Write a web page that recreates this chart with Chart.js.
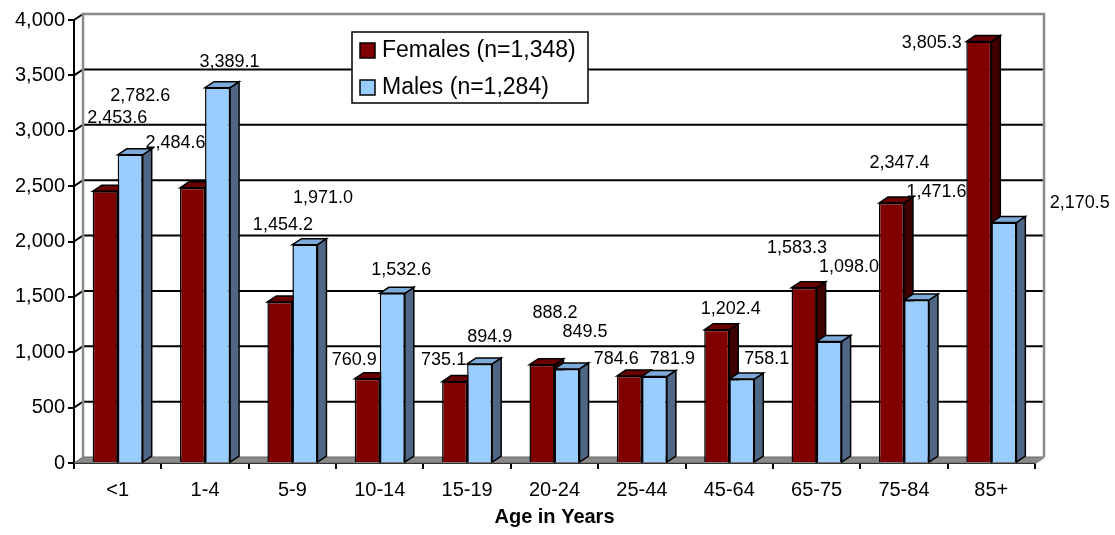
<!DOCTYPE html>
<html>
<head>
<meta charset="utf-8">
<script src="https://cdn.jsdelivr.net/npm/chart.js@4/dist/chart.umd.min.js"></script>
<style>
  html, body { margin: 0; padding: 0; background: #fff; }
  #wrap { width: 1115px; height: 535px; position: relative; }
</style>
</head>
<body>
<div id="wrap"><canvas id="main-chart" width="1115" height="535"></canvas></div>
<script>
const ageGroups   = ['<1', '1-4', '5-9', '10-14', '15-19', '20-24', '25-44', '45-64', '65-75', '75-84', '85+'];
const femaleRates = [2453.6, 2484.6, 1454.2, 760.9, 735.1, 888.2, 784.6, 1202.4, 1583.3, 2347.4, 3805.3];
const maleRates   = [2782.6, 3389.1, 1971.0, 1532.6, 894.9, 849.5, 781.9, 758.1, 1098.0, 1471.6, 2170.5];
const seriesNames = ['Females (n=1,348)', 'Males (n=1,284)'];
const yTickMax = 4000, yTickStep = 500;

// label nudges (px) from the top centre of each bar, as the labels sit in the original
const femaleLabelShift = [[12,-73],[-17,-45],[3,-77],[-13,-19],[-11,-22],[13,-52],[-13,-17],[14,-21],[-7,-40],[8,-40],[-47,1]];
const maleLabelShift   = [[10,-59],[12,-26],[18,-47],[9,-23],[10,-27],[18,-37],[18,-17],[25,-20],[20,-74],[20,-108],[76,-20]];

const FONT = '"Liberation Sans", Arial, sans-serif';
const depth = { x: 9, y: -6 };
const colors = {
  female: { front: '#800000', side: '#3f0000', top: '#6a0000' },
  male:   { front: '#99CCFF', side: '#4F6785', top: '#7DAAD8' },
};
const fmt = v => v.toLocaleString('en-US', { minimumFractionDigits: 1, maximumFractionDigits: 1 });

function poly(ctx, pts, fill) {
  ctx.beginPath();
  ctx.moveTo(pts[0][0], pts[0][1]);
  pts.slice(1).forEach(p => ctx.lineTo(p[0], p[1]));
  ctx.closePath();
  ctx.fillStyle = fill;
  ctx.fill();
  ctx.stroke();
}

// back wall, floor, gridlines and the side/top faces of the bars
const box3d = {
  id: 'box3d',
  beforeDatasetsDraw(chart) {
    const { ctx, chartArea: a, scales: { y } } = chart;
    const dx = depth.x, dy = depth.y;
    ctx.save();
    ctx.lineJoin = 'miter';

    // floor
    ctx.strokeStyle = '#666';
    ctx.lineWidth = 1;
    poly(ctx, [[a.left, a.bottom], [a.left + dx, a.bottom + dy], [a.right + dx, a.bottom + dy], [a.right, a.bottom]], '#8a8a8a');

    // gridlines on the back wall
    ctx.strokeStyle = '#000';
    ctx.lineWidth = 2;
    y.ticks.forEach(t => {
      if (t.value === 0) return;
      const py = y.getPixelForValue(t.value);
      ctx.beginPath();
      ctx.moveTo(a.left, py);
      ctx.lineTo(a.left + dx, py + dy);
      if (t.value < yTickMax) ctx.lineTo(a.right + dx, py + dy);
      ctx.stroke();
    });

    // wall edges
    ctx.strokeStyle = '#8c8c8c';
    ctx.lineWidth = 2.5;
    ctx.beginPath();
    ctx.moveTo(a.left + dx, a.bottom + dy);
    ctx.lineTo(a.left + dx, a.top + dy);
    ctx.lineTo(a.right + dx, a.top + dy);
    ctx.lineTo(a.right + dx, a.bottom + dy);
    ctx.stroke();
    ctx.beginPath();
    ctx.moveTo(a.right, a.bottom);
    ctx.lineTo(a.right + dx, a.bottom + dy);
    ctx.stroke();

    // bar faces (fronts are drawn afterwards by Chart.js)
    ctx.strokeStyle = '#000';
    ctx.lineWidth = 1.5;
    const metas = [chart.getDatasetMeta(0), chart.getDatasetMeta(1)];
    const pal = [colors.female, colors.male];
    ageGroups.forEach((_, i) => {
      metas.forEach((meta, d) => {
        const el = meta.data[i];
        const x1 = el.x - el.width / 2, x2 = el.x + el.width / 2;
        const top = el.y, base = el.base;
        poly(ctx, [[x2, top], [x2 + dx, top + dy], [x2 + dx, base + dy], [x2, base]], pal[d].side);
        poly(ctx, [[x1, top], [x1 + dx, top + dy], [x2 + dx, top + dy], [x2, top]], pal[d].top);
      });
    });
    ctx.restore();
  },
  afterDatasetsDraw(chart) {
    const { ctx } = chart;
    ctx.save();
    ctx.font = '18px ' + FONT;
    ctx.fillStyle = '#000';
    ctx.textAlign = 'center';
    ctx.textBaseline = 'middle';
    [femaleLabelShift, maleLabelShift].forEach((shift, d) => {
      const meta = chart.getDatasetMeta(d);
      const vals = chart.data.datasets[d].data;
      meta.data.forEach((el, i) => {
        ctx.fillText(fmt(vals[i]), el.x + shift[i][0], el.y + shift[i][1]);
      });
    });

    // legend box
    const lx = 352, ly = 32, lw = 236, lh = 71;
    ctx.fillStyle = '#fff';
    ctx.fillRect(lx, ly, lw, lh);
    ctx.strokeStyle = '#000';
    ctx.lineWidth = 1.5;
    ctx.strokeRect(lx, ly, lw, lh);
    ctx.font = '23px ' + FONT;
    ctx.textAlign = 'left';
    [colors.female.front, colors.male.front].forEach((c, k) => {
      const sy = ly + 11 + k * 37;
      ctx.fillStyle = c;
      ctx.fillRect(lx + 8, sy, 15, 15);
      ctx.strokeRect(lx + 8, sy, 15, 15);
      ctx.fillStyle = '#000';
      ctx.fillText(seriesNames[k], lx + 30, sy + 8);
    });
    ctx.restore();
  }
};

new Chart(document.getElementById('main-chart'), {
  type: 'bar',
  data: {
    labels: ageGroups,
    datasets: [
      { label: seriesNames[0], data: femaleRates, backgroundColor: colors.female.front, borderColor: '#000', borderWidth: 1.5, borderSkipped: 'bottom' },
      { label: seriesNames[1], data: maleRates, backgroundColor: colors.male.front, borderColor: '#000', borderWidth: 1.5, borderSkipped: 'bottom' },
    ]
  },
  options: {
    responsive: false,
    animation: false,
    layout: { padding: { left: 0, right: 80, top: 20, bottom: 0 } },
    datasets: { bar: { categoryPercentage: 0.573, barPercentage: 1.0 } },
    plugins: { legend: { display: false }, tooltip: { enabled: false } },
    scales: {
      x: {
        grid: { display: true, offset: true, drawOnChartArea: false, drawTicks: true, tickLength: 6, color: '#000', lineWidth: 2 },
        border: { color: '#000', width: 2 },
        ticks: { color: '#000', padding: 9, font: { family: FONT, size: 20 } },
        title: { display: true, text: 'Age in Years', color: '#000', padding: { top: 0, bottom: 6 }, font: { family: FONT, size: 20, weight: 'bold' } },
        afterFit: s => { s.height = 72; }
      },
      y: {
        min: 0, max: yTickMax,
        grid: { display: true, drawOnChartArea: false, drawTicks: true, tickLength: 6, color: '#000', lineWidth: 2 },
        border: { color: '#000', width: 2 },
        ticks: { stepSize: yTickStep, color: '#000', padding: 3, font: { family: FONT, size: 20 }, callback: v => v.toLocaleString('en-US') },
        afterFit: s => { s.width = 74; }
      }
    }
  },
  plugins: [box3d]
});
</script>
</body>
</html>
